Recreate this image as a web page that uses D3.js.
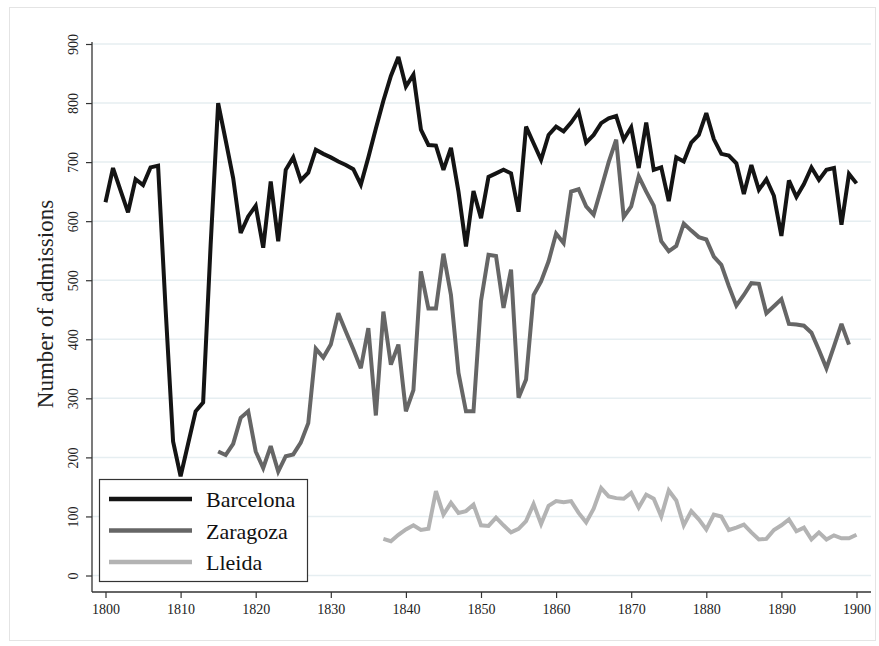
<!DOCTYPE html>
<html>
<head>
<meta charset="utf-8">
<script src="https://cdn.jsdelivr.net/npm/d3@7"></script>
<style>
  html, body { margin: 0; padding: 0; background: #fff; }
  svg { display: block; }
  svg text { font-family: "Liberation Serif", "Times New Roman", serif !important; }
</style>
</head>
<body>
<svg id="chart" width="879" height="646"></svg>
<script>
// ---- Data ----
const seriesNames = ["Barcelona", "Zaragoza", "Lleida"];
const barcelonaStart = 1800;
const barcelona = [632,690,652,615,671,661,691,694,452,227,
  168,223,278,293,560,800,737,673,580,608,
  626,555,667,566,687,708,669,682,721,714,
  708,701,695,688,662,708,757,804,846,878,
  828,848,755,729,728,687,724,650,557,651,
  605,675,681,687,681,616,760,732,704,746,
  760,752,767,785,733,746,766,774,778,738,
  759,690,767,687,691,634,708,701,733,746,
  783,739,714,711,698,646,695,653,671,643,
  575,669,641,663,691,670,687,690,594,680,
  664];
const zaragozaStart = 1815;
const zaragoza = [210,204,223,267,278,210,182,219,176,202,
  205,225,258,384,369,391,444,413,383,351,
  419,271,447,357,391,278,314,515,452,452,
  545,475,343,278,278,465,543,541,453,518,
  301,332,475,498,532,579,563,650,654,625,
  611,655,700,738,607,625,676,650,626,566,
  549,558,596,584,573,569,540,526,490,457,
  475,495,494,444,456,468,426,425,423,411,
  382,351,388,426,391];
const lleidaStart = 1837;
const lleida = [62,58,69,78,85,77,79,143,103,123,
  106,109,120,85,84,98,85,73,79,92,
  121,87,118,126,124,126,106,90,113,148,
  134,131,130,140,115,137,130,100,144,127,
  85,109,95,78,103,100,77,81,86,73,
  61,62,77,85,95,75,81,61,73,61,
  68,63,63,69];
const xTicks = [1800,1810,1820,1830,1840,1850,1860,1870,1880,1890,1900];
const yTicks = [0,100,200,300,400,500,600,700,800,900];
const yTitle = "Number of admissions";

// ---- Build ----
const svg = d3.select("#chart");
const font = "Liberation Serif, Times New Roman, serif";

svg.append("rect").attr("x", 9.5).attr("y", 7.5).attr("width", 866).attr("height", 633)
  .attr("fill", "#fff").attr("stroke", "#e4e4e4").attr("stroke-width", 1);

const x = d3.scaleLinear().domain([1800, 1900]).range([105.5, 856.5]);
const y = d3.scaleLinear().domain([0, 900]).range([575.5, 44]);

const axisX0 = 92, axisX1 = 871, axisY = 592;

// gridlines
svg.append("g").selectAll("line").data(yTicks).join("line")
  .attr("x1", axisX0).attr("x2", axisX1)
  .attr("y1", d => y(d)).attr("y2", d => y(d))
  .attr("stroke", "#e6eef1").attr("stroke-width", 1.5);

// y axis
const yAxis = d3.axisLeft(y).tickValues(yTicks).tickSize(6).tickPadding(0).tickFormat(d3.format("d"));
const gy = svg.append("g").attr("transform", `translate(${axisX0},0)`).call(yAxis)
  .attr("font-family", font);
gy.select(".domain").remove();
gy.append("line").attr("x1", 0).attr("x2", 0).attr("y1", 42).attr("y2", axisY).attr("stroke", "#333").attr("stroke-width", 1.3);
gy.selectAll(".tick line").attr("stroke", "#333").attr("stroke-width", 1.2);
gy.selectAll(".tick text")
  .style("font-family", font).attr("font-size", 14).attr("fill", "#222")
  .attr("text-anchor", "middle")
  .attr("x", null).attr("dy", null)
  .attr("transform", "translate(-14,0) rotate(-90)");

// x axis
const xAxis = d3.axisBottom(x).tickValues(xTicks).tickSize(6).tickPadding(6).tickFormat(d3.format("d"));
const gx = svg.append("g").attr("transform", `translate(0,${axisY})`).call(xAxis)
  .attr("font-family", font);
gx.select(".domain").remove();
gx.append("line").attr("x1", axisX0).attr("x2", axisX1).attr("y1", 0).attr("y2", 0).attr("stroke", "#333").attr("stroke-width", 1.3);
gx.selectAll(".tick line").attr("stroke", "#333").attr("stroke-width", 1.2);
gx.selectAll(".tick text").style("font-family", font).attr("font-size", 14).attr("fill", "#222");

// y title
svg.append("text")
  .attr("transform", `translate(53,304) rotate(-90)`)
  .attr("text-anchor", "middle")
  .style("font-family", font).attr("font-size", 23).attr("fill", "#222")
  .text(yTitle);

// lines
const series = [
  { name: seriesNames[0], start: barcelonaStart, values: barcelona, color: "#141414" },
  { name: seriesNames[1], start: zaragozaStart, values: zaragoza, color: "#666666" },
  { name: seriesNames[2], start: lleidaStart, values: lleida, color: "#b3b3b3" }
];
const line = d3.line().x(d => x(d.year)).y(d => y(d.value));
const drawOrder = [series[2], series[1], series[0]];
drawOrder.forEach(s => {
  const pts = s.values.map((v, i) => ({ year: s.start + i, value: v }));
  svg.append("path").datum(pts)
    .attr("d", line)
    .attr("fill", "none")
    .attr("stroke", s.color)
    .attr("stroke-width", 4)
    .attr("stroke-linejoin", "miter")
    .attr("stroke-miterlimit", 3);
});

// legend
const lg = svg.append("g");
lg.append("rect").attr("x", 99.5).attr("y", 479.5).attr("width", 208).attr("height", 102)
  .attr("fill", "#fff").attr("stroke", "#333").attr("stroke-width", 1.2);
const legY = [499, 530.5, 562];
series.forEach((s, i) => {
  lg.append("line").attr("x1", 109).attr("x2", 192).attr("y1", legY[i]).attr("y2", legY[i])
    .attr("stroke", s.color).attr("stroke-width", 4.5);
  lg.append("text").attr("x", 206).attr("y", legY[i] + 8)
    .style("font-family", font).attr("font-size", 22).attr("fill", "#111")
    .text(s.name);
});
</script>
</body>
</html>
